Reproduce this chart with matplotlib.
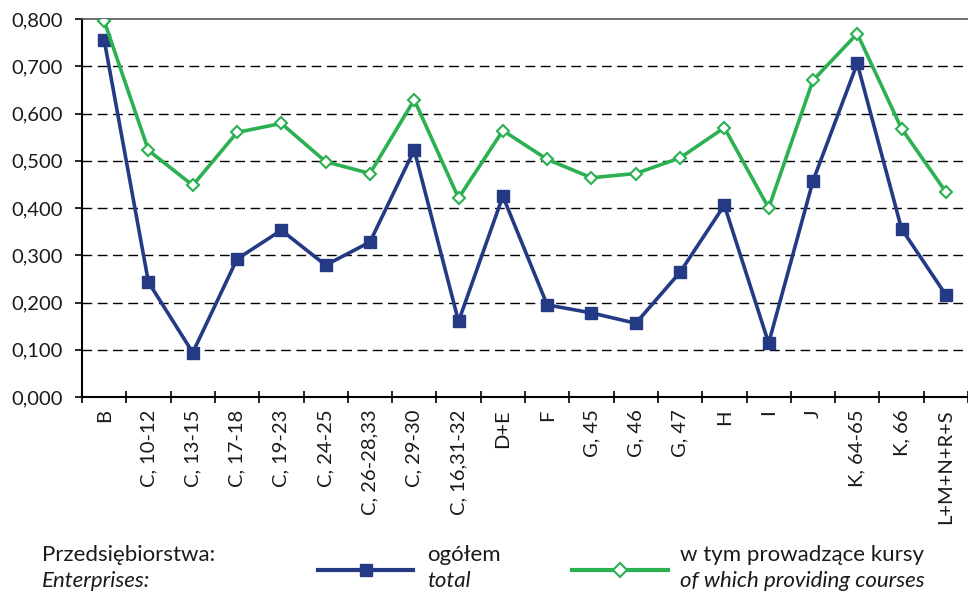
import matplotlib
matplotlib.use("Agg")
import matplotlib.pyplot as plt
import numpy as np
from matplotlib.lines import Line2D
from matplotlib.ticker import FuncFormatter, FixedLocator

categories = ["B", "C, 10-12", "C, 13-15", "C, 17-18", "C, 19-23", "C, 24-25",
              "C, 26-28,33", "C, 29-30", "C, 16,31-32", "D+E", "F", "G, 45",
              "G, 46", "G, 47", "H", "I", "J", "K, 64-65", "K, 66", "L+M+N+R+S"]
total = [0.756, 0.243, 0.094, 0.292, 0.353, 0.279, 0.328, 0.523, 0.160, 0.425,
         0.195, 0.178, 0.156, 0.264, 0.406, 0.114, 0.457, 0.706, 0.356, 0.216]
courses = [0.796, 0.522, 0.448, 0.560, 0.579, 0.498, 0.473, 0.629, 0.421, 0.564,
           0.503, 0.464, 0.473, 0.506, 0.570, 0.400, 0.670, 0.769, 0.568, 0.434]
yticks = [0.0, 0.1, 0.2, 0.3, 0.4, 0.5, 0.6, 0.7, 0.8]

plt.rcParams['font.family'] = ['Lato', 'DejaVu Sans']

BLUE = "#243A85"
GREEN = "#2BB052"
TXT = "#1a1a1a"

fig = plt.figure(figsize=(9.68, 5.97), dpi=100)
ax = fig.add_axes([82/968, 1-397/597, (968-82)/968, (397-19)/597])

x = np.arange(len(categories))
ax.plot(x, total, color=BLUE, lw=2.6, marker='s', ms=8, mfc=BLUE, mec=BLUE, zorder=3)
ax.plot(x, courses, color=GREEN, lw=2.6, marker='D', ms=6, mfc='white', mec=GREEN,
        mew=1.5, zorder=4)

ax.set_xlim(-0.5, len(categories) - 0.5)
ax.set_ylim(0, 0.8)
ax.set_yticks(yticks)
ax.yaxis.set_major_formatter(FuncFormatter(lambda v, p: f"{v:.3f}".replace('.', ',')))
for yv in yticks[1:-1]:
    ax.axhline(yv, color='black', lw=1.0, ls=(0, (7, 4)), zorder=1)

ax.set_xticks(x)
ax.set_xticklabels(categories, rotation=90, color=TXT)
ax.xaxis.set_minor_locator(FixedLocator(np.arange(-0.5, len(categories), 1.0)))
ax.tick_params(axis='x', which='major', length=0, pad=9, labelsize=14.5)
ax.tick_params(axis='x', which='minor', length=8, width=1.2, direction='inout')
ax.tick_params(axis='y', length=5, width=1.2, labelsize=14.5, pad=9, labelcolor=TXT)

ax.spines['right'].set_visible(False)
ax.spines['top'].set_color('#555555')
ax.spines['top'].set_linewidth(1.2)
ax.spines['left'].set_linewidth(1.5)
ax.spines['bottom'].set_linewidth(1.5)

# legend
fs = 16
y1, y2, yl = 1-555/597, 1-581/597, 1-570/597
fig.text(42/968, y1, "Przedsiębiorstwa:", fontsize=fs, va='center', ha='left', color=TXT)
fig.text(42/968, y2, "Enterprises:", fontsize=fs, va='center', ha='left', style='italic', color=TXT)
fig.add_artist(Line2D([318/968, 413/968], [yl, yl], color=BLUE, lw=3))
fig.add_artist(Line2D([366/968], [yl], color=BLUE, marker='s', ms=9, lw=0))
fig.text(427/968, y1, "ogółem", fontsize=fs, va='center', ha='left', color=TXT)
fig.text(427/968, y2, "total", fontsize=fs, va='center', ha='left', style='italic', color=TXT)
fig.add_artist(Line2D([572/968, 668/968], [yl, yl], color=GREEN, lw=3))
fig.add_artist(Line2D([620/968], [yl], color=GREEN, marker='D', ms=7, lw=0,
                      mfc='white', mec=GREEN, mew=1.5))
fig.text(680/968, y1, "w tym prowadzące kursy", fontsize=fs, va='center', ha='left', color=TXT)
fig.text(680/968, y2, "of which providing courses", fontsize=fs, va='center', ha='left', style='italic', color=TXT)

fig.savefig("out.png", dpi=100)
